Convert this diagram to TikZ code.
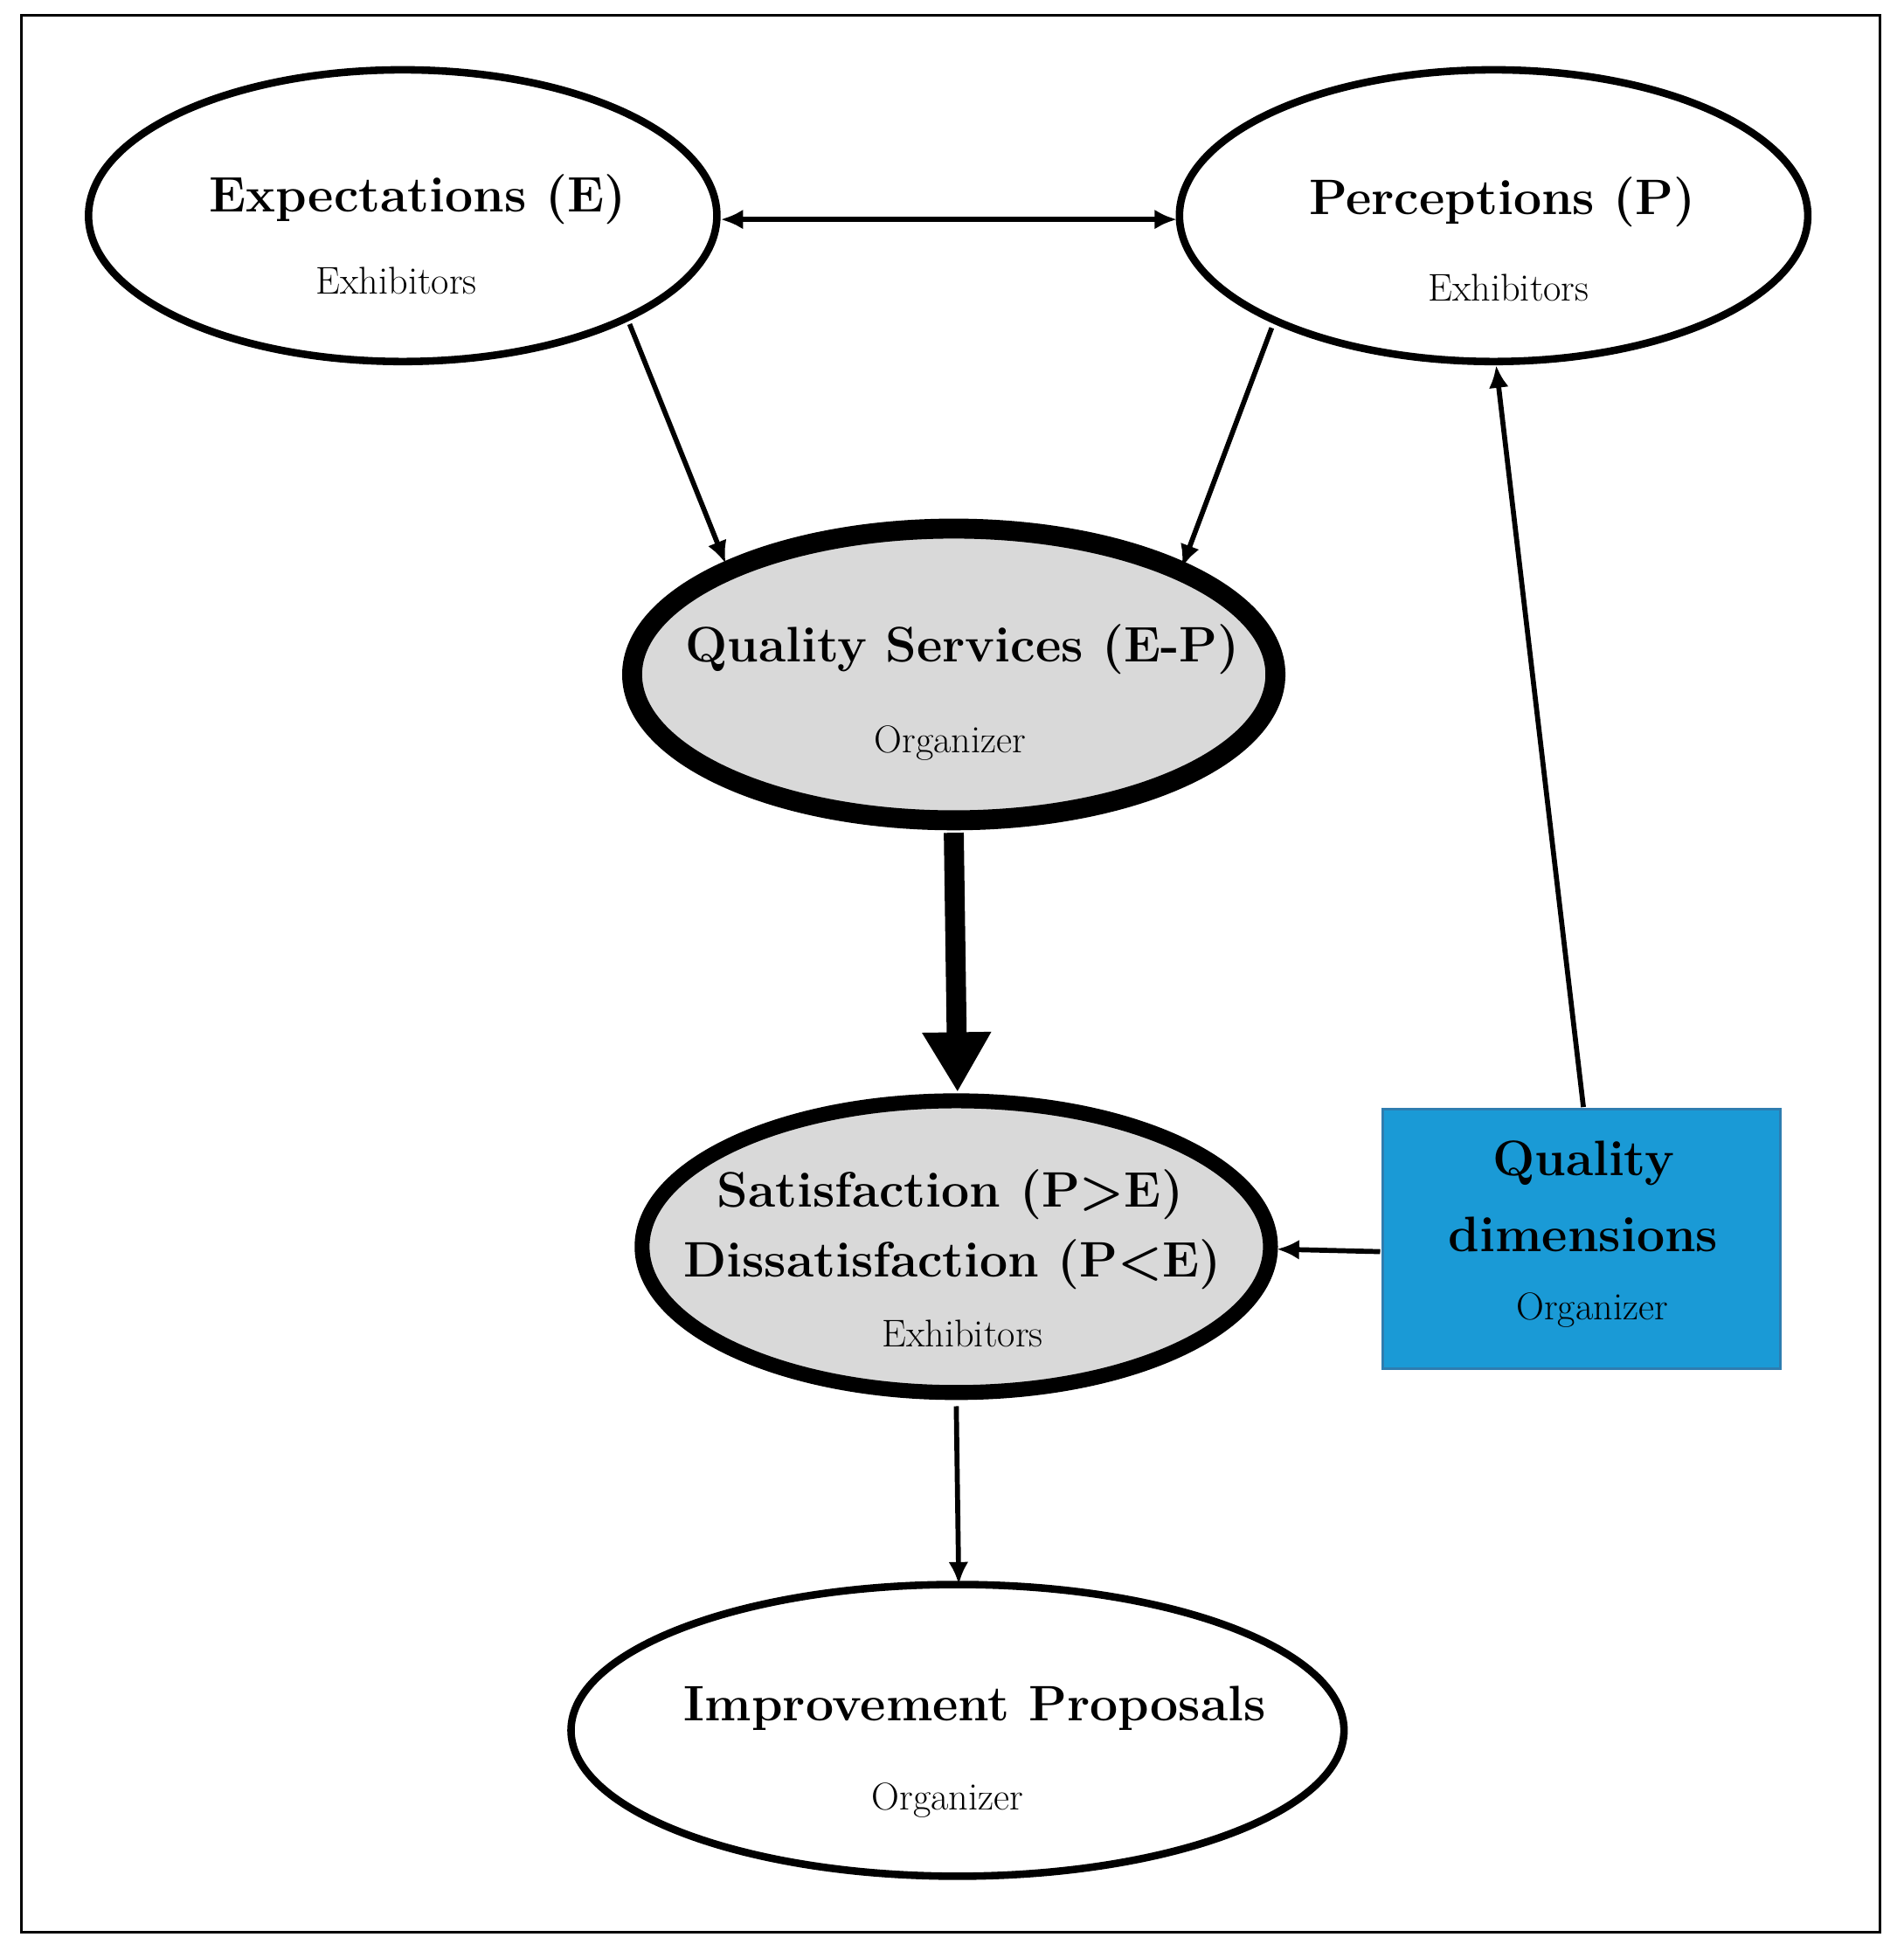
\documentclass[tikz,border=0pt]{standalone}
\usetikzlibrary{shapes.geometric,arrows.meta}
\definecolor{qgray}{HTML}{D9D9D9}
\definecolor{qblue}{HTML}{1A9AD6}
\definecolor{qblueb}{HTML}{2E7DB0}
\begin{document}
\begin{tikzpicture}[x=0.5pt,y=-0.5pt,
  ell/.style={ellipse,draw,line width=3pt,inner sep=0pt},
  ttl/.style={font=\fontsize{20}{24}\selectfont\bfseries},
  sub/.style={font=\fontsize{15.5}{18}\selectfont},
  con/.style={line width=2pt,-{Latex[length=9pt,width=8pt]}}]
\useasboundingbox (0,0) rectangle (1527,1565);
\draw[line width=1pt] (17,12) rectangle (1508,1550);
\node[ell,minimum width=252pt,minimum height=117pt] (E) at (323,173) {};
\node[ell,minimum width=252pt,minimum height=117pt] (P) at (1198,173) {};
\node[ell,fill=qgray,line width=8pt,minimum width=258pt,minimum height=117pt] (Q) at (765,541) {};
\node[ell,fill=qgray,line width=6pt,minimum width=252pt,minimum height=117pt] (S) at (767,1000) {};
\node[ell,minimum width=310pt,minimum height=117pt] (I) at (768,1388) {};
\node[draw=qblueb,fill=qblue,line width=1pt,minimum width=159.5pt,minimum height=104pt,inner sep=0pt] (D) at (1268.5,994) {};
\node[ttl] (Et) at (335,160) {Expectations (E)};
\node[sub] (Es) at (318,225) {Exhibitors};
\node[ttl] (Pt) at (1205,162) {Perceptions (P)};
\node[sub] (Ps) at (1210,231) {Exhibitors};
\node[ttl] (Qt) at (772,521) {Quality Services (E-P)};
\node[sub] (Qs) at (762,596) {Organizer};
\node[ttl] (St1) at (762,958) {Satisfaction (P>E)};
\node[ttl] (St2) at (764,1014) {Dissatisfaction (P<E)};
\node[sub] (Ss) at (772,1070) {Exhibitors};
\node[ttl] (It) at (782,1370) {Improvement Proposals};
\node[sub] (Is) at (760,1444) {Organizer};
\node[ttl] (Dt1) at (1270,933) {Quality};
\node[ttl] (Dt2) at (1270,990) {dimensions};
\node[sub] (Ds) at (1277,1051) {Organizer};
\coordinate (a1) at (578,176); \coordinate (a2) at (944,176);
\draw[line width=2pt,{Latex[length=9pt,width=8pt]}-{Latex[length=9pt,width=8pt]}] (a1) -- (a2);
\coordinate (b1) at (505,260); \coordinate (b2) at (582,452);
\draw[con] (b1) -- (b2);
\coordinate (c1) at (1020,263); \coordinate (c2) at (948,455);
\draw[con] (c1) -- (c2);
\coordinate (d1) at (765,668); \coordinate (d2) at (768,876);
\draw[line width=8pt,-{Triangle[length=24pt,width=26pt]}] (d1) -- (d2);
\coordinate (e1) at (767,1128); \coordinate (e2) at (769,1271);
\draw[con] (e1) -- (e2);
\coordinate (f1) at (1107,1004); \coordinate (f2) at (1024,1002);
\draw[con] (f1) -- (f2);
\coordinate (g1) at (1270,888); \coordinate (g2) at (1200,293);
\draw[con] (g1) -- (g2);
\end{tikzpicture}
\end{document}
